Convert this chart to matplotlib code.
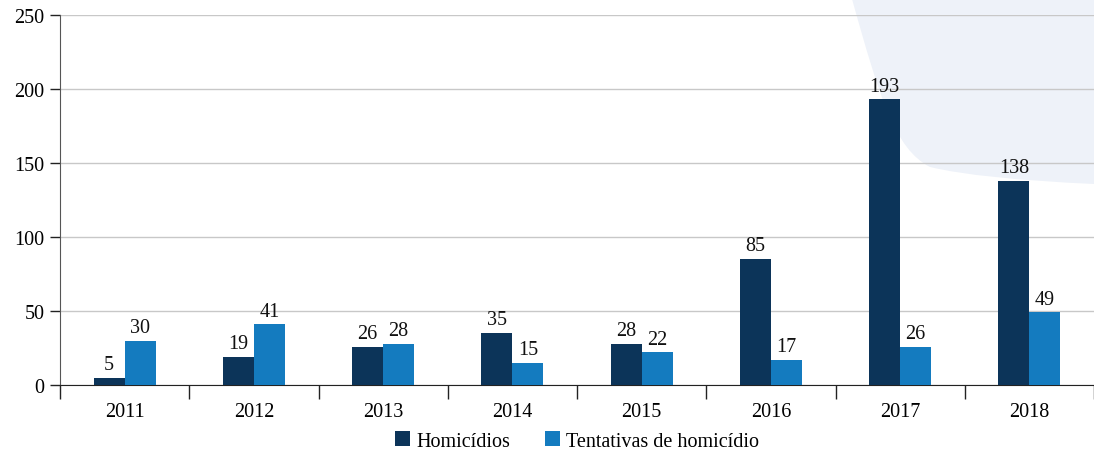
import matplotlib
matplotlib.use("Agg")
import matplotlib.pyplot as plt
import numpy as np
from matplotlib.path import Path
from matplotlib.patches import PathPatch

years = ["2011", "2012", "2013", "2014", "2015", "2016", "2017", "2018"]
homicidios = [5, 19, 26, 35, 28, 85, 193, 138]
tentativas = [30, 41, 28, 15, 22, 17, 26, 49]
series_names = ["Homicídios", "Tentativas de homicídio"]
yticks = [0, 50, 100, 150, 200, 250]

dark = "#0c3459"
light = "#147bbf"
FS = 14.5

plt.rcParams['font.family'] = ['Liberation Serif', 'DejaVu Serif']
W, H = 1094, 452
fig = plt.figure(figsize=(W/100, H/100), dpi=100)

# background decoration in a full-figure axes behind everything
bgax = fig.add_axes([0, 0, 1, 1], zorder=-10)
bgax.set_xlim(0, W)
bgax.set_ylim(H, 0)
bgax.axis("off")
verts = [(852, 0), (880, 100), (895, 150), (930, 168), (980, 180), (1094, 185),
         (1094, 0), (852, 0)]
codes = [Path.MOVETO, Path.CURVE4, Path.CURVE4, Path.CURVE4, Path.CURVE3, Path.CURVE3,
         Path.LINETO, Path.CLOSEPOLY]
bgax.add_patch(PathPatch(Path(verts, codes), facecolor="#eef2f9", edgecolor="none"))

left, right, top, bottom = 60, 1094, 16, 386
ax = fig.add_axes([left / W, 1 - bottom / H, (right - left) / W, (bottom - top) / H], zorder=1)
ax.patch.set_alpha(0)

x = np.arange(len(years))
bw = 0.24
b1 = ax.bar(x - bw/2, homicidios, bw, color=dark, label=series_names[0], zorder=3)
b2 = ax.bar(x + bw/2, tentativas, bw, color=light, label=series_names[1], zorder=3)
for rects, vals in ((b1, homicidios), (b2, tentativas)):
    for r, v in zip(rects, vals):
        ax.text(r.get_x() + r.get_width()/2, v + 2.5, str(v), ha="center", va="bottom",
                fontsize=FS, color="#111111")

ax.set_xlim(-0.5, 7.5 - 6/130)
ax.set_ylim(0, 250)
ax.set_yticks(yticks)
ax.set_yticklabels([str(t) for t in yticks], fontsize=FS)
ax.yaxis.grid(True, color="#c8c8c8", linewidth=1, zorder=0)
ax.set_axisbelow(True)

ax.set_xticks(np.arange(len(years) + 1) - 0.5)
ax.set_xticklabels([])
ax.set_xticks(x, minor=True)
ax.set_xticklabels(years, minor=True, fontsize=FS)
ax.tick_params(axis="x", which="major", length=10, color="#222222", width=1)
ax.tick_params(axis="x", which="minor", length=0, pad=12)
ax.tick_params(axis="y", length=7, color="#222222", width=1, pad=4)

for s in ["top", "right"]:
    ax.spines[s].set_visible(False)
ax.spines["left"].set_color("#555555")
ax.spines["bottom"].set_color("#222222")

ax.legend(loc="upper center", bbox_to_anchor=(0.5, -0.125), ncol=2, frameon=False,
          fontsize=FS, handlelength=0.75, handleheight=0.75, handletextpad=0.3,
          columnspacing=1.7, borderaxespad=0, borderpad=0)

fig.savefig("out.png", dpi=100)
